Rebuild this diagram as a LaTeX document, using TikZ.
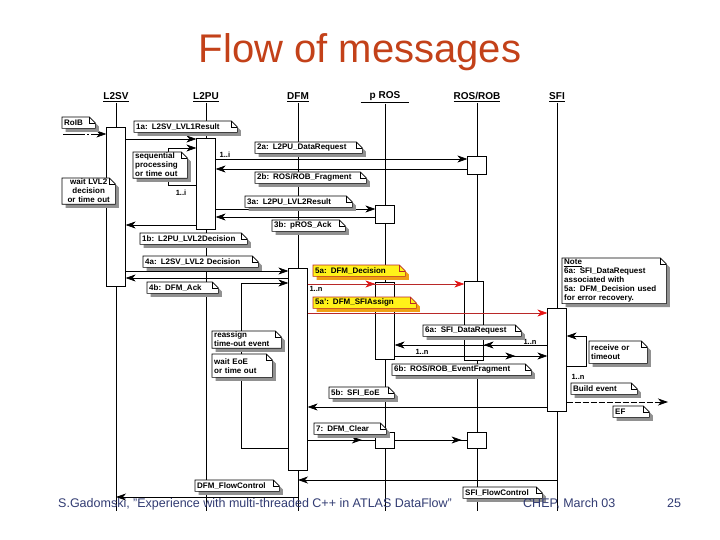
\documentclass[tikz,border=0pt]{standalone}
\usepackage{fontspec}
\setmainfont{Liberation Sans}
\usepackage{xcolor}
\usepackage{tikz}
\usetikzlibrary{positioning,arrows.meta,decorations.markings}
\definecolor{titleclr}{RGB}{195,65,25}
\definecolor{footclr}{RGB}{50,60,115}
\definecolor{tipred}{RGB}{230,20,20}
\definecolor{linered}{RGB}{185,40,40}
\definecolor{noteyel}{RGB}{255,242,25}
\definecolor{yelshade}{RGB}{240,160,20}
\definecolor{shadowgray}{RGB}{145,145,145}
\newcommand{\notefont}{\fontsize{8}{9}\selectfont\bfseries}
\tikzset{
  head/.style={font=\fontsize{10}{12}\selectfont\bfseries,inner sep=1pt},
  life/.style={line width=0.7pt},
  act/.style={draw,fill=white,line width=0.7pt,anchor=north,
              minimum width=18.5pt,inner sep=0pt},
  msg/.style={-{Stealth[length=10pt,width=7pt,inset=3pt]},line width=0.7pt},
  redmsg/.style={draw=linered,line width=0.7pt,
                 -{Stealth[length=10pt,width=7pt,inset=3pt,color=tipred]}},
  midtip/.style={postaction=decorate,decoration={markings,
                 mark=at position #1 with {\arrow{Stealth[length=10pt,width=7pt,inset=3pt]}}}},
  dogear/.style n args={3}{append after command={\pgfextra{
      \fill[#3,transform canvas={shift={(3.5pt,-3.5pt)}}] (\tikzlastnode.north west)
        -- ([xshift=-6pt]\tikzlastnode.north east) -- ([yshift=-6pt]\tikzlastnode.north east)
        -- (\tikzlastnode.south east) -- (\tikzlastnode.south west) -- cycle;
      \filldraw[draw=#1,fill=#2,line width=0.6pt] (\tikzlastnode.north west)
        -- ([xshift=-6pt]\tikzlastnode.north east) -- ([yshift=-6pt]\tikzlastnode.north east)
        -- (\tikzlastnode.south east) -- (\tikzlastnode.south west) -- cycle;
      \draw[#1,line width=0.6pt] ([xshift=-6pt]\tikzlastnode.north east)
        -- ([shift={(-6pt,-6pt)}]\tikzlastnode.north east)
        -- ([yshift=-6pt]\tikzlastnode.north east);}}},
  notebox/.style={anchor=north west,font=\notefont,align=left,
                  inner xsep=2pt,inner ysep=1pt,minimum height=11pt},
  note/.style={notebox,dogear={black}{white}{shadowgray}},
  rednote/.style={notebox,dogear={linered}{noteyel}{yelshade}},
  mult/.style={font=\fontsize{7.5}{8}\selectfont\bfseries,inner sep=0.5pt},
  foot/.style={font=\fontsize{12.5}{14}\selectfont,text=footclr,anchor=base west,inner sep=0pt},
}

\begin{document}
\begin{tikzpicture}[x=1pt,y=-1pt]
\path[fill=white,use as bounding box] (0,0) rectangle (720,540);
\node[font=\fontsize{40}{44}\selectfont,text=titleclr,anchor=base] (title) at (360,63) {Flow of messages};
\coordinate (bot) at (0,511);
\foreach \n/\x/\t in {l2sv/116/L2SV,l2pu/206/L2PU,dfm/298/DFM,
    pros/385/{\hspace{9pt}p ROS\hspace{9pt}},rosrob/477/{ROS/ROB},sfi/557/SFI}{
  \node[head] (\n) at (\x,97) {\underline{\t}};
  \draw[life] (\n.south) -- (\n |- bot);
}
\node[act,minimum height=159pt] (l2svact) at (l2sv |- 0,127) {};
\node[act,minimum height=91pt] (l2puact) at (l2pu |- 0,138) {};
\node[act,minimum height=18pt] (rosrob2a) at (rosrob |- 0,156) {};
\node[act,minimum height=18pt] (pros3a) at (pros |- 0,205) {};
\node[act,minimum height=202pt] (dfmact) at (dfm |- 0,268) {};
\node[act,minimum height=77pt] (pros5a) at (pros |- 0,282) {};
\node[act,minimum height=79pt,xshift=-3pt] (rosrob5a) at (rosrob |- 0,281) {};
\node[act,minimum height=103pt] (sfiact) at (sfi |- 0,308) {};
\node[act,minimum height=16pt] (pros7) at (pros |- 0,432) {};
\node[act,minimum height=16pt] (rosrob7) at (rosrob |- 0,432) {};

\coordinate (roib) at (63,134);
\draw[msg,dash pattern=on 22pt off 2pt on 2pt off 2pt on 40pt] (roib) -- (l2svact.west |- roib);
\draw[msg] (l2svact.east |- 0,139) -- (l2puact.west |- 0,139);
\draw[msg] (l2puact.west |- 0,185) -- ++(-28,0) |- (l2puact.west |- 0,148);
\draw[msg] (l2puact.east |- 0,159) -- (rosrob2a.west |- 0,159);
\draw[msg] (rosrob2a.west |- 0,169) -- (l2puact.east |- 0,169);
\draw[msg] (l2puact.east |- 0,209) -- (pros3a.west |- 0,209);
\draw[msg] (pros3a.west |- 0,217) -- (l2puact.east |- 0,217);
\draw[msg] (l2puact.west |- 0,225) -- (l2svact.east |- 0,225);
\draw[msg] (l2svact.east |- 0,271) -- (dfmact.west |- 0,271);
\draw[msg] (dfmact.west |- 0,278) -- (l2svact.east |- 0,278);
\draw[msg] (dfmact.west |- 0,448) -- ++(-47,0) |- (dfmact.west |- 0,283);
\draw[redmsg] (dfmact.east |- 0,284) -- (pros5a.west |- 0,284);
\draw[redmsg] (dfmact.east |- 0,284) -- (rosrob5a.west |- 0,284);
\draw[redmsg] (dfmact.east |- 0,313) -- (sfiact.west |- 0,313);
\draw[msg] (sfiact.west |- 0,345) -- (rosrob5a.east |- 0,345);
\draw[msg] (sfiact.west |- 0,345) -- (pros5a.east |- 0,345);
\draw[msg,midtip=0.79] (pros5a.east |- 0,356) -- (sfiact.west |- 0,356);
\draw[msg] (sfiact.east |- 0,366) -- ++(20,0) |- (sfiact.east |- 0,336);
\coordinate (ef) at (668,402);
\draw[msg,dash pattern=on 6pt off 2pt] (sfiact.east |- ef) -- (ef);
\draw[msg] (sfiact.west |- 0,407) -- (dfmact.east |- 0,407);
\draw[msg,-,midtip=0.8] (dfmact.east |- 0,440) -- (pros7.west |- 0,440);
\draw[msg,-,midtip=0.92] (pros7.east |- 0,440) -- (rosrob7.west |- 0,440);
\draw[msg] (sfi |- 0,480) -- (dfm |- 0,480);
\draw[msg] (dfm |- 0,497) -- (l2sv |- 0,497);

\node[mult,anchor=south west] (m2a) at (219,158) {1..i};
\node[mult] (mloop) at (181,193) {1..i};
\node[mult] (m5a) at (316,289) {1..n};
\node[mult] (m6a) at (530,342) {1..n};
\node[mult] (m6b) at (422,352) {1..n};
\node[mult] (mbuild) at (578,377) {1..n};

\node[note,text width=29pt] (nroib) at (62,117) {RoIB};
\node[note,text width=99pt] (n1a) at (134,121) {1a: L2SV\_LVL1Result};
\node[note,text width=50pt] (nseq) at (133,152) {sequential\\processing\\or time out};
\node[note,text width=49pt,align=center] (nwait) at (62,178) {wait LVL2\\decision\\or time out};
\node[note,text width=103pt] (n2a) at (255,142) {2a: L2PU\_DataRequest};
\node[note,text width=107pt] (n2b) at (255,172) {2b: ROS/ROB\_Fragment};
\node[note,text width=103pt] (n3a) at (245,196) {3a: L2PU\_LVL2Result};
\node[note,text width=69pt] (n3b) at (272,220) {3b: pROS\_Ack};
\node[note,text width=103pt] (n1b) at (140,233) {1b: L2PU\_LVL2Decision};
\node[note,text width=111pt] (n4a) at (143,256) {4a: L2SV\_LVL2 Decision};
\node[note,text width=67pt] (n4b) at (147,282) {4b: DFM\_Ack};
\node[rednote,text width=88pt] (n5a) at (313,265) {5a: DFM\_Decision};
\node[rednote,text width=99pt] (n5ap) at (313,297) {5a': DFM\_SFIAssign};
\node[note,text width=100pt] (nsfi) at (562,258) {\underline{Note}\\6a: SFI\_DataRequest\\associated with\\5a: DFM\_Decision used\\for error recovery.};
\node[note,text width=65pt] (nreas) at (212,331) {reassign\\time-out event};
\node[note,text width=56pt,minimum height=23pt] (neoe) at (212,354) {wait EoE\\or time out};
\node[note,text width=94pt] (n6a) at (423,325) {6a: SFI\_DataRequest};
\node[note,text width=54pt,minimum height=22pt] (nrecv) at (589,341) {receive or\\timeout};
\node[note,text width=135pt] (n6b) at (392,364) {6b: ROS/ROB\_EventFragment};
\node[note,text width=62pt] (nbuild) at (571,383) {Build event};
\node[note,text width=61pt] (n5b) at (329,387) {5b: SFI\_EoE};
\node[note,text width=32pt] (nef) at (613,406) {EF};
\node[note,text width=68pt] (n7) at (314,423) {7: DFM\_Clear};
\node[note,text width=80pt] (ndfmfc) at (195,480) {DFM\_FlowControl};
\node[note,text width=75pt] (nsfifc) at (463,487) {SFI\_FlowControl};

\node[foot] (ftxt) at (58,507) {S.Gadomski, "Experience with multi-threaded C++ in ATLAS DataFlow"};
\node[foot] (fconf) at (523,507) {CHEP, March 03};
\node[foot] (fpage) at (667,507) {25};
\end{tikzpicture}
\end{document}
